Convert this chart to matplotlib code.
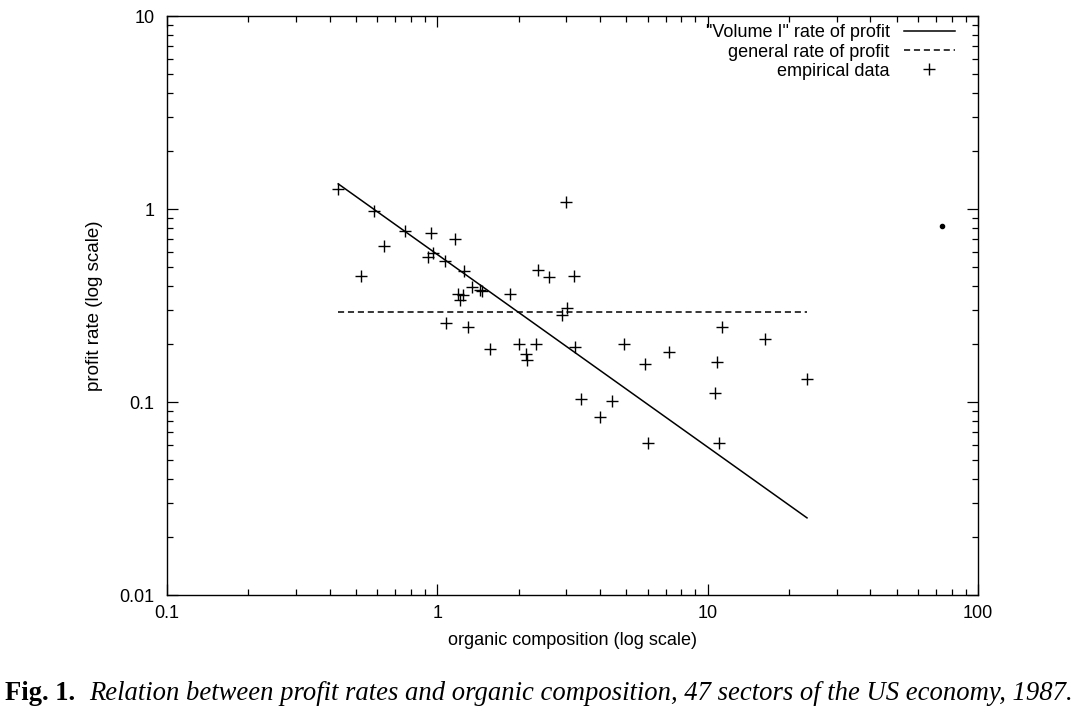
import matplotlib
matplotlib.use('Agg')
import matplotlib.pyplot as plt
from matplotlib.ticker import LogLocator, NullFormatter, FixedLocator, FixedFormatter

plt.rcParams['font.family'] = ['Liberation Sans', 'DejaVu Sans']

# empirical data: organic composition vs profit rate
organic_comp = [0.43, 0.585, 0.636, 0.523, 0.76, 0.95, 1.16, 0.92, 0.96, 1.07,
                1.25, 1.34, 1.44, 1.46, 1.19, 1.24, 1.21, 1.85, 1.08, 1.30,
                1.57, 2.01, 2.31, 2.12, 2.15, 2.35, 2.98, 2.58, 3.19, 3.03,
                2.90, 3.22, 4.89, 5.85, 7.17, 3.41, 4.41, 3.98, 6.0, 11.3,
                16.3, 10.8, 23.3, 10.6, 11.0]
profit_rate = [1.27, 0.976, 0.643, 0.45, 0.77, 0.75, 0.70, 0.564, 0.59, 0.538,
               0.477, 0.394, 0.38, 0.375, 0.363, 0.358, 0.338, 0.363, 0.257, 0.245,
               0.188, 0.20, 0.20, 0.177, 0.165, 0.483, 1.09, 0.444, 0.45, 0.307,
               0.282, 0.193, 0.20, 0.157, 0.182, 0.104, 0.101, 0.0836, 0.0613, 0.245,
               0.212, 0.161, 0.131, 0.111, 0.0613]

# "Volume I" rate of profit line endpoints
vol1_x = [0.43, 23.3]
vol1_y = [1.35, 0.0251]

# general rate of profit
general_x = [0.43, 23.3]
general_y = [0.292, 0.292]

# stray dot on the scan
stray_x = [73.6]
stray_y = [0.817]

fig = plt.figure(figsize=(10.8, 7.25), dpi=100)
ax = fig.add_axes([0.1546, 0.1793, 0.751, 0.7986])

ax.plot(vol1_x, vol1_y, color='black', lw=1.1, label='"Volume I" rate of profit')
ax.plot(general_x, general_y, color='black', lw=1.1, ls=(0, (4, 2.5)),
        label='general rate of profit')
ax.plot(organic_comp, profit_rate, ls='none', marker='+', ms=8, mew=1.0,
        color='black', label='empirical data')
ax.plot(stray_x, stray_y, ls='none', marker='o', ms=3, color='black')

ax.set_xscale('log')
ax.set_yscale('log')
ax.set_xlim(0.1, 100)
ax.set_ylim(0.01, 10)

ax.xaxis.set_major_locator(FixedLocator([0.1, 1, 10, 100]))
ax.xaxis.set_major_formatter(FixedFormatter(['0.1', '1', '10', '100']))
ax.yaxis.set_major_locator(FixedLocator([0.01, 0.1, 1, 10]))
ax.yaxis.set_major_formatter(FixedFormatter(['0.01', '0.1', '1', '10']))
ax.xaxis.set_minor_locator(LogLocator(base=10, subs=range(2, 10)))
ax.yaxis.set_minor_locator(LogLocator(base=10, subs=range(2, 10)))
ax.xaxis.set_minor_formatter(NullFormatter())
ax.yaxis.set_minor_formatter(NullFormatter())

ax.tick_params(which='both', direction='in', top=True, right=True,
               labelsize=13, width=0.9)
ax.tick_params(which='major', length=8)
ax.tick_params(axis='x', which='major', pad=7.5)
ax.tick_params(axis='y', which='major', pad=9)
ax.tick_params(which='minor', length=4)
for s in ax.spines.values():
    s.set_linewidth(1.0)

ax.set_xlabel('organic composition (log scale)', fontsize=13, labelpad=7)
ax.set_ylabel('profit rate (log scale)', fontsize=13.5, labelpad=12)

leg = ax.legend(loc='upper right', bbox_to_anchor=(0.980, 0.998),
                borderaxespad=0, frameon=False, markerfirst=False,
                fontsize=13, handlelength=2.8, handletextpad=0.8,
                labelspacing=0.12)
for t in leg.get_texts():
    t.set_ha('right')

# caption
t1 = fig.text(0.005, 0.034, 'Fig. 1.', family='Liberation Serif',
              weight='bold', fontsize=19.2)
fig.canvas.draw()
bb = t1.get_window_extent()
fig.text((bb.x1 + 14) / fig.bbox.width, 0.034,
         'Relation between profit rates and organic composition, '
         '47 sectors of the US economy, 1987.',
         family='Liberation Serif', style='italic', fontsize=19.2)

fig.savefig('out.png', dpi=100)
